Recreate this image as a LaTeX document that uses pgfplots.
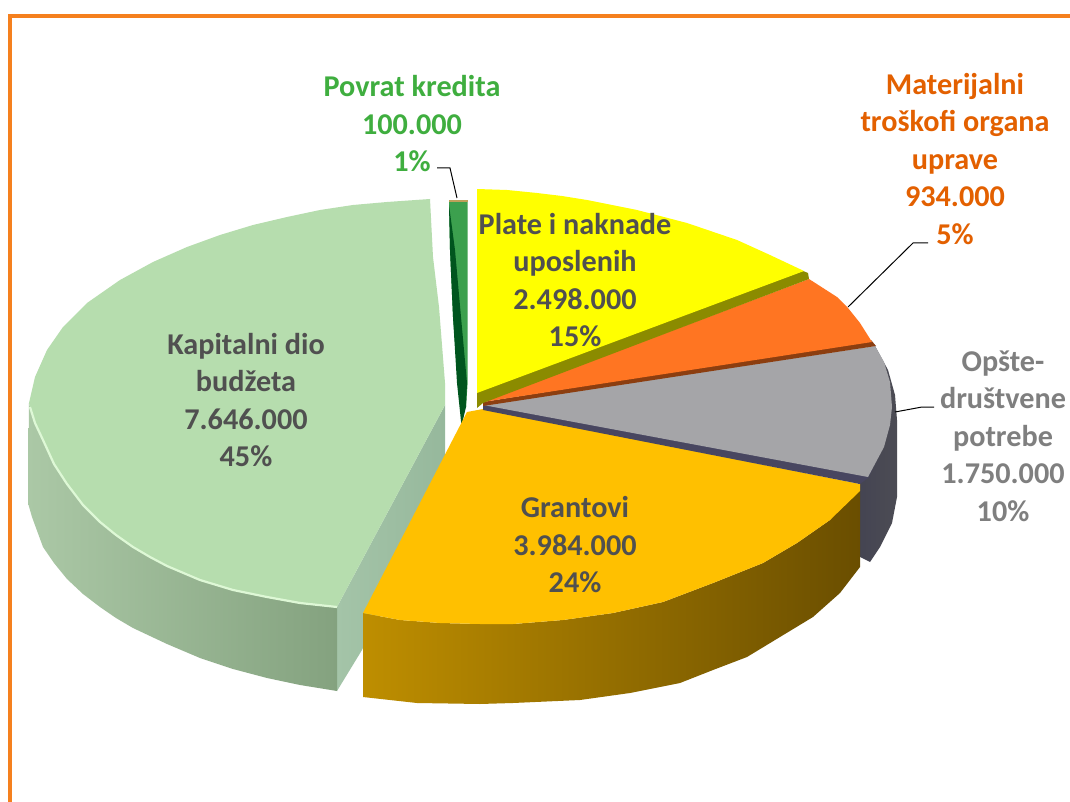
\documentclass[border=0pt]{standalone}
\usepackage{pgfplots}
\pgfplotsset{compat=1.18}
\usepackage{fontspec}
\setmainfont{Carlito}
\definecolor{framec}{HTML}{F5801E}
\definecolor{txtd}{HTML}{505050}
\definecolor{txtg}{HTML}{3FAE3F}
\definecolor{txto}{HTML}{E36000}
\definecolor{txtm}{HTML}{7F7F7F}
\definecolor{kcuta}{HTML}{A4C4A8}
\definecolor{kcutb}{HTML}{96B89C}
\definecolor{kwa}{HTML}{ABC8A6}
\definecolor{kwb}{HTML}{9AB892}
\definecolor{kwc}{HTML}{84A27F}
\definecolor{ktop}{HTML}{B6DDAE}
\definecolor{krim}{HTML}{DEF8D6}
\definecolor{pgr}{HTML}{3CA04E}
\definecolor{pdk}{HTML}{00551E}
\definecolor{ptan}{HTML}{BEA05A}
\definecolor{owa}{HTML}{444452}
\definecolor{owb}{HTML}{4C4C54}
\definecolor{gwa}{HTML}{BE8E00}
\definecolor{gwb}{HTML}{705100}
\definecolor{gwc}{HTML}{6A4E00}
\definecolor{gtop}{HTML}{FFC000}
\definecolor{ostrip}{HTML}{484660}
\definecolor{otop}{HTML}{A5A5A8}
\definecolor{mstrip}{HTML}{8C3E10}
\definecolor{mtop}{HTML}{FF7522}
\definecolor{ystrip}{HTML}{8B8B00}
\definecolor{ytop}{HTML}{FFFF00}
\tikzset{lab/.style={font=\fontsize{30.2}{37.5}\selectfont\bfseries,align=center,inner sep=0pt}}
\begin{document}
\begin{tikzpicture}
\begin{axis}[
  scale only axis,width=1070pt,height=802pt,
  xmin=0,xmax=1070,ymin=0,ymax=802,y dir=reverse,
  hide axis,clip=true]
% page
\addplot[draw=none,fill=white] coordinates {(0,0)(1070,0)(1070,802)(0,802)} --cycle;
% frame
\addplot[framec,line width=4pt] coordinates {(9.5,810)(9.5,16)(1080,16)};
% Kapitalni dio: cut wall
\addplot[draw=none,shade,left color=kcuta,right color=kcutb] coordinates {(445,405)(337,607)(337,691)(362,650)(445,480)} --cycle;
% Kapitalni dio: outer wall
\addplot[draw=none,shade,left color=kwa,middle color=kwb,right color=kwc] coordinates {(29,403)(28,503)(32,517)(43,547)(54,563)(67,579)(83,594)(100,607)(116,618)(133,628)(150,636)(167,644)(200,658)(233,669)(267,678)(300,685)(337,691)(337,607)(300,603)(267,597)(233,590)(200,580)(167,566)(150,557)(133,547)(116,535)(100,522)(83,505)(67,484)(54,464)(43,440)(35,423)(30,407)} --cycle;
% Kapitalni dio: top
\addplot[draw=none,fill=ktop] coordinates {(430,199)(387,202)(353,205)(320,210)(287,217)(253,225)(220,235)(187,247)(153,262)(120,280)(87,303)(63,327)(47,350)(35,377)(29,403)(30,407)(35,423)(43,440)(54,464)(67,484)(83,505)(100,522)(116,535)(133,547)(150,557)(167,566)(200,580)(233,590)(267,597)(300,603)(337,607)(445,405)(445,383)(439,307)(433,257)} --cycle;
% rim highlight
\addplot[krim,line width=2.2pt,line join=round] coordinates {(30,407)(35,423)(43,440)(54,464)(67,484)(83,505)(100,522)(116,535)(133,547)(150,557)(167,566)(200,580)(233,590)(267,597)(300,603)(337,607)};
% Povrat kredita
\addplot[draw=none,fill=pgr] coordinates {(449,202)(467.5,202)(467.5,385)(466,407)(458,383)(453,317)(450,250)} --cycle;
\addplot[draw=none,fill=pdk] coordinates {(449,205)(455,250)(461,317)(467,383)(466,407)(461.5,426)(457,383)(453,317)(450,250)} --cycle;
\addplot[ptan,line width=1.5pt] coordinates {(449,201)(467.5,201)};
% Opste-drustvene: wall
\addplot[draw=none,shade,left color=owa,right color=owb] coordinates {(875,346)(888,370)(895,395)(897,420)(897,497)(892,523)(880,547)(870,562)(860,557)(858,482)(868,477)} --cycle;
% Grantovi: wall
\addplot[draw=none,shade,left color=gwa,middle color=gwb,right color=gwc] coordinates {(363,613)(363,697)(417,703)(480,704)(513,703)(580,700)(630,693)(680,683)(713,670)(747,657)(780,637)(813,617)(840,593)(860,567)(860,483)(830,520)(797,543)(763,563)(713,583)(663,602)(613,613)(563,620)(513,624)(480,624)(440,623)(400,620)} --cycle;
% Grantovi: top
\addplot[draw=none,fill=gtop] coordinates {(467,412)(483,409)(860,484)(860,491)(830,520)(797,543)(763,563)(713,583)(663,602)(613,613)(563,620)(513,624)(480,624)(440,623)(400,620)(363,613)} --cycle;
% Opste-drustvene: dark strip and top
\addplot[draw=none,fill=ostrip] coordinates {(483,404)(872,470)(868,478)(860,484)(483,410)} --cycle;
\addplot[draw=none,fill=otop] coordinates {(483,405)(875,346)(884,362)(890,382)(892,407)(890,425)(884,447)(868,477)} --cycle;
% Materijalni: strip and top
\addplot[draw=none,fill=mstrip] coordinates {(483,402)(871,340)(876,346)(483,406)} --cycle;
\addplot[draw=none,fill=mtop] coordinates {(483,402)(809,279)(837,297)(848,308)(860,323)(872,342)} --cycle;
% Plate i naknade: strip and top
\addplot[draw=none,fill=ystrip] coordinates {(477,392)(803,271)(808,273)(809,279)(483,403)(477,408)} --cycle;
\addplot[draw=none,fill=ytop] coordinates {(477,189)(507,190)(537,193)(562,196)(587,200)(637,210)(687,223)(737,240)(770,255)(804,271)(477,393)} --cycle;
% leaders
\addplot[black,line width=1pt] coordinates {(437,168)(450,168)(457,198)};
\addplot[black,line width=1pt] coordinates {(848,307)(913,243)(928,243)};
\addplot[black,line width=1pt] coordinates {(895,412)(922,407)(934,407)};
% labels
\node[lab,text=txtd] at (axis cs:575,280) {Plate i naknade\\uposlenih\\2.498.000\\15\%};
\node[lab,text=txtd] at (axis cs:246,400) {Kapitalni dio\\budžeta\\7.646.000\\45\%};
\node[lab,text=txtd] at (axis cs:575,545) {Grantovi\\3.984.000\\24\%};
\node[lab,text=txtg] at (axis cs:412,124) {Povrat kredita\\100.000\\1\%};
\node[lab,text=txto] at (axis cs:955,159) {Materijalni\\troškofi organa\\uprave\\934.000\\5\%};
\node[lab,text=txtm] at (axis cs:1003,436) {Opšte-\\društvene\\potrebe\\1.750.000\\10\%};
\end{axis}
\end{tikzpicture}
\end{document}
